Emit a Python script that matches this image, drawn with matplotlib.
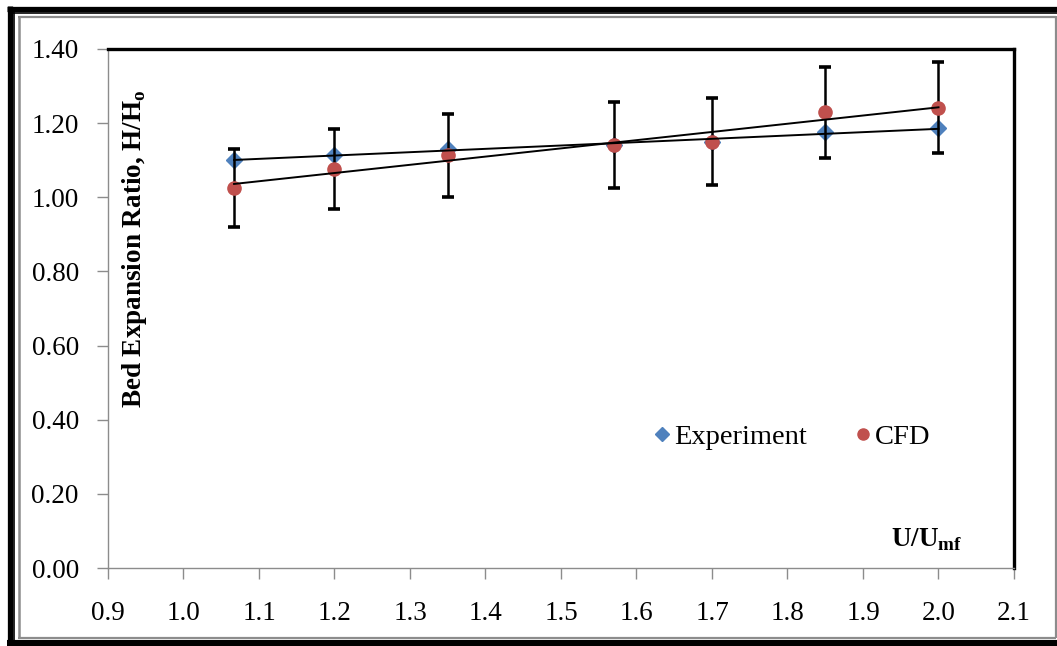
import numpy as np
import matplotlib
matplotlib.use("Agg")
import matplotlib.pyplot as plt
from matplotlib.lines import Line2D

# Superficial velocity ratio U/Umf and bed expansion ratio H/Ho
velocity_ratio = [1.067, 1.2, 1.35, 1.57, 1.7, 1.85, 2.0]
experiment = [1.100, 1.115, 1.130, 1.142, 1.148, 1.177, 1.187]
cfd = [1.025, 1.076, 1.114, 1.140, 1.150, 1.229, 1.242]
cfd_error = [0.104, 0.107, 0.112, 0.116, 0.118, 0.123, 0.123]

x_ticks = [0.9, 1.0, 1.1, 1.2, 1.3, 1.4, 1.5, 1.6, 1.7, 1.8, 1.9, 2.0, 2.1]
y_ticks = [0.0, 0.2, 0.4, 0.6, 0.8, 1.0, 1.2, 1.4]

BLUE = "#4F81BD"
RED = "#C0504D"
GREY = "#8C8C8C"

plt.rcParams["font.family"] = ["Liberation Serif", "DejaVu Serif"]
plt.rcParams["mathtext.fontset"] = "custom"
plt.rcParams["mathtext.rm"] = "Liberation Serif"
plt.rcParams["mathtext.bf"] = "Liberation Serif:bold"

W, H = 1057, 646
fig = plt.figure(figsize=(W / 100, H / 100), dpi=100)

def fx(px):
    return px / W

def fy(py):
    return 1 - py / H

ax = fig.add_axes([fx(108), fy(568), fx(1014) - fx(108), fy(49) - fy(568)])

x = np.array(velocity_ratio)
exp_y = np.array(experiment)
cfd_y = np.array(cfd)

# Series markers with error bars on the CFD predictions
ax.plot(x, exp_y, linestyle="none", marker="D", markersize=8.5,
        color=BLUE, zorder=3)
ax.errorbar(x, cfd_y, yerr=cfd_error, fmt="none", ecolor="black",
            elinewidth=1.8, capsize=4.3, capthick=2.6, zorder=4)
ax.plot(x, cfd_y, linestyle="none", marker="o", markersize=9.5,
        color=RED, zorder=5)

# Linear trend lines for each series
for yy in (exp_y, cfd_y):
    slope, icpt = np.polyfit(x, yy, 1)
    ax.plot([x.min(), x.max()], [slope * x.min() + icpt, slope * x.max() + icpt],
            color="black", linewidth=1.4, zorder=6)

ax.set_xlim(0.9, 2.1)
ax.set_ylim(0.0, 1.4)
ax.set_xticks(x_ticks)
ax.set_xticklabels([f"{v:.1f}" for v in x_ticks])
ax.set_yticks(y_ticks)
ax.set_yticklabels([f"{v:.2f}" for v in y_ticks])
ax.tick_params(axis="both", direction="out", length=8, width=1.0,
               color=GREY, labelsize=19.5, labelcolor="black")
ax.tick_params(axis="y", pad=13)
ax.tick_params(axis="x", pad=16)

for side in ("top", "right"):
    ax.spines[side].set_color("black")
    ax.spines[side].set_linewidth(2.4)
for side in ("left", "bottom"):
    ax.spines[side].set_color(GREY)
    ax.spines[side].set_linewidth(1.0)

ax.text(0.029, 0.615, "Bed Expansion Ratio, H/H$_{\\mathregular{o}}$",
        transform=ax.transAxes, rotation=90, ha="center", va="center",
        fontsize=19.5, fontweight="bold")
ax.text(0.904, 0.054, "U/U$_{\\mathbf{mf}}$", transform=ax.transAxes,
        ha="center", va="center", fontsize=19.5, fontweight="bold")

handles = [
    Line2D([], [], linestyle="none", marker="D", markersize=7, color=BLUE),
    Line2D([], [], linestyle="none", marker="o", markersize=8, color=RED),
]
ax.legend(handles, ["Experiment", "CFD"], ncol=2, frameon=False,
          loc="center", bbox_to_anchor=(0.755, 0.252), fontsize=20.5,
          handlelength=0.6, handletextpad=0.12, columnspacing=1.7)

# Decorative frame around the chart
def hline(y, x0, x1, color, lw):
    fig.add_artist(Line2D([fx(x0), fx(x1)], [fy(y), fy(y)], color=color,
                          linewidth=lw, transform=fig.transFigure,
                          solid_capstyle="butt"))

def vline(xp, y0, y1, color, lw):
    fig.add_artist(Line2D([fx(xp), fx(xp)], [fy(y0), fy(y1)], color=color,
                          linewidth=lw, transform=fig.transFigure,
                          solid_capstyle="butt"))

hline(8.5, 7, W, "black", 3.8)
vline(9.5, 6, H, "black", 3.8)
hline(643, 7, W, "black", 4.4)
hline(12.8, 13, W, "black", 1.2)
vline(13.8, 12, 640, "black", 1.2)
hline(16.8, 18, 1056, GREY, 1.6)
vline(19, 16, 638, GREY, 1.8)
vline(1055.5, 16, 638, GREY, 1.6)
hline(637.8, 18, 1056, GREY, 1.6)

fig.savefig("out.png", dpi=100)
